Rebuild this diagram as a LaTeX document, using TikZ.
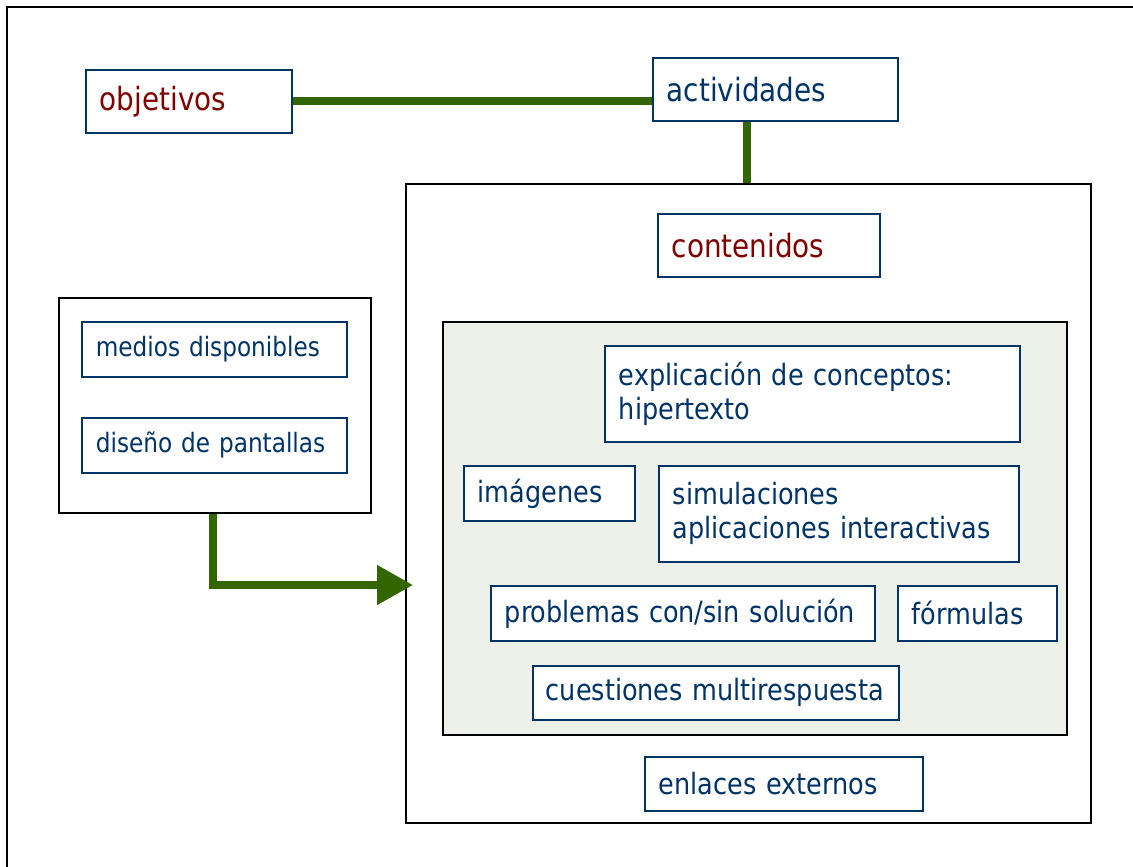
\documentclass[tikz,border=0pt]{standalone}
\usepackage{fontspec}
\setmainfont{DejaVu Sans}[FakeStretch=0.87]
\usetikzlibrary{arrows.meta}

\definecolor{rojo}{RGB}{128,0,0}
\definecolor{azul}{RGB}{0,51,102}
\definecolor{verde}{RGB}{51,102,0}
\definecolor{fondo}{RGB}{237,240,232}

\newcommand{\letragrande}{\fontsize{24}{28}\selectfont}
\newcommand{\letramedia}{\fontsize{22}{25.5}\selectfont}
\newcommand{\letrachica}{\fontsize{20}{24}\selectfont}
\hyphenpenalty=10000
\exhyphenpenalty=10000

\tikzset{
  caja/.style={draw=azul, line width=1.25pt, fill=white, anchor=north west,
    align=left, inner xsep=10.5pt, inner ysep=0pt, text=azul},
  marco/.style={draw=black, line width=1.5pt, anchor=north west, inner sep=0pt},
  enlace/.style={draw=verde, line width=6pt},
}

\begin{document}
\begin{tikzpicture}[x=0.75pt,y=-0.75pt]
  \useasboundingbox (0,0) rectangle (1133,867);
  \draw[line width=1.5pt] (7,867) -- (7,7) -- (1133,7);

  % containers
  \node[marco, minimum width=513.75pt, minimum height=479.25pt] (contenedor) at (405,183) {};
  \node[marco, fill=fondo, minimum width=468pt, minimum height=309.75pt] (recursos) at (442,321) {};
  \node[marco, fill=white, minimum width=234pt, minimum height=161.25pt] (disenio) at (58,297) {};

  % boxes
  \node[caja, text=rojo, font=\letragrande, minimum width=154.5pt, minimum height=47.25pt, text width=133.5pt] (objetivos) at (85,69) {objetivos};
  \node[caja, font=\letragrande, minimum width=183.75pt, minimum height=47.25pt, text width=162.75pt] (actividades) at (652,57) {actividades};
  \node[caja, text=rojo, font=\letragrande, minimum width=166.5pt, minimum height=47.25pt, text width=145.5pt] (contenidos) at (657,213) {contenidos};
  \node[caja, font=\letramedia, minimum width=311.25pt, minimum height=72pt, text width=290.25pt] (explicacion) at (604,345) {explicación de conceptos:\\hipertexto};
  \node[caja, font=\letramedia, minimum width=128.25pt, minimum height=41.25pt, text width=107.25pt] (imagenes) at (463,465) {imágenes};
  \node[caja, font=\letramedia, minimum width=270pt, minimum height=72pt, text width=249pt] (simulaciones) at (658,465) {simulaciones\\aplicaciones interactivas};
  \node[caja, font=\letramedia, minimum width=288pt, minimum height=41.25pt, text width=267pt] (problemas) at (490,585) {problemas con/sin solución};
  \node[caja, font=\letramedia, minimum width=119.25pt, minimum height=41.25pt, text width=98.25pt] (formulas) at (897,585) {fórmulas};
  \node[caja, font=\letramedia, inner xsep=9.75pt, minimum width=274.5pt, minimum height=40.5pt, text width=255pt] (cuestiones) at (532,665) {cuestiones multirespuesta};
  \node[caja, font=\letramedia, minimum width=208.5pt, minimum height=40.5pt, text width=187.5pt] (enlaces) at (644,756) {enlaces externos};
  \node[caja, font=\letrachica, minimum width=198.75pt, minimum height=41.25pt, text width=177.75pt] (medios) at (81,321) {medios disponibles};
  \node[caja, font=\letrachica, minimum width=198.75pt, minimum height=41.25pt, text width=177.75pt] (pantallas) at (81,417) {diseño de pantallas};

  \coordinate (bajada) at (747,183);
  \coordinate (codo) at (213,585);

  \begin{scope}[enlace]
    \draw (objetivos.east) -- (objetivos.east -| actividades.west);
    \draw (actividades.south -| bajada) -- (bajada);
    \draw[-{Triangle[length=27pt,width=28.5pt]}] (disenio.south -| codo) |- ([xshift=6pt]contenedor.west |- codo);
  \end{scope}
\end{tikzpicture}
\end{document}
